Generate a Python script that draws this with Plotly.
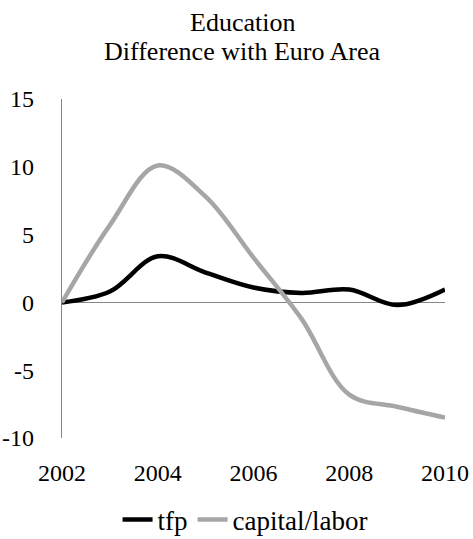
import plotly.graph_objects as go

years = [2002, 2003, 2004, 2005, 2006, 2007, 2008, 2009, 2010]
tfp = [0.0, 0.8, 3.4, 2.2, 1.1, 0.7, 0.95, -0.2, 0.95]
capital_labor = [0.0, 5.7, 10.1, 7.8, 3.3, -1.2, -6.8, -7.7, -8.5]
y_ticks = [-10, -5, 0, 5, 10, 15]
y_tick_labels = ["-10", "-5", "0", "5", "10", "15"]
x_ticks = [2002, 2004, 2006, 2008, 2010]
title_lines = ["Education", "Difference with Euro Area"]

FONT = "Liberation Serif"
PLOT_TOP = 99
PLOT_H = 339  # plot area height in px

fig = go.Figure()
fig.add_trace(go.Scatter(x=years, y=tfp, name="tfp", mode="lines",
                         line=dict(color="#000000", width=4.5, shape="spline", smoothing=1)))
fig.add_trace(go.Scatter(x=years, y=capital_labor, name="capital/labor", mode="lines",
                         line=dict(color="#A6A6A6", width=4.5, shape="spline", smoothing=1)))

fig.update_layout(
    width=473, height=539,
    paper_bgcolor="white", plot_bgcolor="white",
    margin=dict(l=62, r=28, t=PLOT_TOP, b=101, autoexpand=False),
    font=dict(family=FONT, size=24, color="#000000"),
    showlegend=True,
    legend=dict(orientation="h", x=0.478, xanchor="center", y=-82 / PLOT_H, yanchor="middle",
                font=dict(family=FONT, size=27), tracegroupgap=0),
)
for i, (t, yc) in enumerate(zip(title_lines, [22, 52])):
    fig.add_annotation(text=t, xref="paper", yref="paper", x=0.47,
                       y=1 + (PLOT_TOP - yc) / PLOT_H, xanchor="center", yanchor="middle",
                       showarrow=False, font=dict(family=FONT, size=26, color="#000000"))

fig.update_xaxes(range=[2002, 2010], tickvals=x_ticks, showgrid=False, zeroline=False,
                 showline=False, ticks="", ticklabelstandoff=18, automargin=False)
fig.update_yaxes(range=[-10, 15], tickvals=y_ticks, ticktext=y_tick_labels, showgrid=False,
                 zeroline=True, zerolinecolor="#868686", zerolinewidth=1.3, showline=True,
                 linecolor="#868686", linewidth=1.3, ticks="", ticklabelstandoff=22,
                 automargin=False)

fig.write_html("out.html", config={"displayModeBar": False},
               post_script="document.body.style.margin='0';document.body.style.overflow='hidden';")
